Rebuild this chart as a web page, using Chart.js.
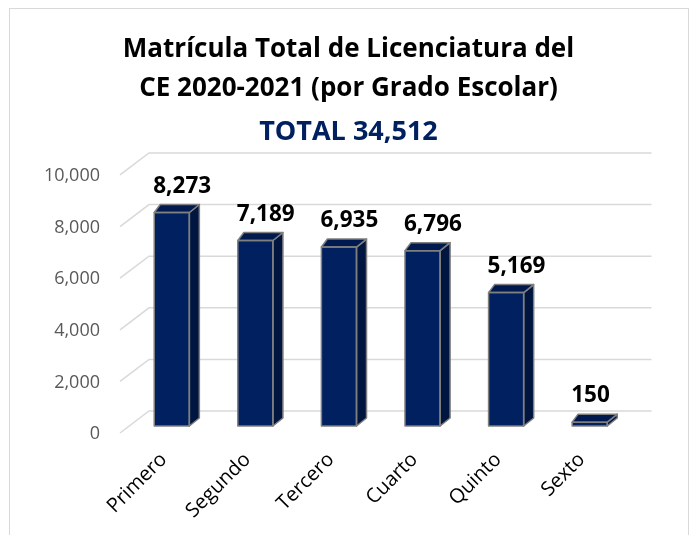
<!DOCTYPE html>
<html>
<head>
<meta charset="utf-8">
<script src="https://cdn.jsdelivr.net/npm/chart.js@4.4.1/dist/chart.umd.min.js"></script>
<style>
  html, body { margin: 0; padding: 0; background: #ffffff; }
  #wrap { position: relative; width: 691px; height: 535px; }
</style>
</head>
<body>
<div id="wrap"><canvas id="c" width="691" height="535"></canvas></div>
<script>
// ---- data ----
const categories = ['Primero', 'Segundo', 'Tercero', 'Cuarto', 'Quinto', 'Sexto'];
const enrollment = [8273, 7189, 6935, 6796, 5169, 150];
const yTickValues = [0, 2000, 4000, 6000, 8000, 10000];
const titleLines = ['Matrícula Total de Licenciatura del', 'CE 2020-2021 (por Grado Escolar)'];
const subtitleText = 'TOTAL 34,512';

// ---- styles ----
const FONT = '"Open Sans"';
const fmt = v => v.toLocaleString('en-US');
const DEPTH_DX = 10, DEPTH_DX_LEFT = 6, DEPTH_DY = 8;

const borderPlugin = {
  id: 'frame',
  beforeDraw(chart) {
    const ctx = chart.ctx;
    ctx.save();
    ctx.fillStyle = '#ffffff';
    ctx.fillRect(0, 0, chart.width, chart.height);
    ctx.strokeStyle = '#d9d9d9';
    ctx.lineWidth = 1;
    ctx.strokeRect(9.5, 8.5, 679, 560);
    ctx.restore();
  }
};

const wallGrid = {
  id: 'wallGrid',
  beforeDatasetsDraw(chart) {
    const ctx = chart.ctx;
    const ys = chart.scales.y;
    const area = chart.chartArea;
    ctx.save();
    ctx.strokeStyle = '#d9d9d9';
    ctx.lineWidth = 1.5;
    yTickValues.forEach(v => {
      const yf = ys.getPixelForValue(v);
      ctx.beginPath();
      ctx.moveTo(area.left - 10, yf + 7);
      ctx.lineTo(area.left + 19, yf - 15);
      ctx.lineTo(area.right + 20, yf - 15);
      ctx.stroke();
    });
    ctx.restore();
  }
};

const bars3d = {
  id: 'bars3d',
  afterDatasetsDraw(chart) {
    const ctx = chart.ctx;
    const meta = chart.getDatasetMeta(0);
    ctx.save();
    ctx.lineJoin = 'round';
    ctx.strokeStyle = '#7f7f7f';
    ctx.lineWidth = 1.5;
    meta.data.forEach((bar, i) => {
      const p = bar.getProps(['x', 'y', 'base', 'width'], true);
      const left = p.x - p.width / 2, right = p.x + p.width / 2;
      const top = p.y, base = p.base;
      // side face
      ctx.beginPath();
      ctx.moveTo(right, top);
      ctx.lineTo(right + DEPTH_DX, top - DEPTH_DY);
      ctx.lineTo(right + DEPTH_DX, base - DEPTH_DY);
      ctx.lineTo(right, base);
      ctx.closePath();
      ctx.fillStyle = '#00153f';
      ctx.fill();
      ctx.stroke();
      // top face
      ctx.beginPath();
      ctx.moveTo(left, top);
      ctx.lineTo(left + DEPTH_DX_LEFT, top - DEPTH_DY);
      ctx.lineTo(right + DEPTH_DX, top - DEPTH_DY);
      ctx.lineTo(right, top);
      ctx.closePath();
      ctx.fillStyle = '#001a4f';
      ctx.fill();
      ctx.stroke();
      // front outline
      ctx.strokeRect(left, top, p.width, base - top);
      // value label
      ctx.fillStyle = '#000000';
      ctx.font = 'bold 22.5px ' + FONT;
      ctx.textAlign = 'left';
      ctx.textBaseline = 'alphabetic';
      ctx.fillText(fmt(enrollment[i]), left - 1, top - 20);
    });
    ctx.restore();
  }
};

new Chart(document.getElementById('c'), {
  type: 'bar',
  data: {
    labels: categories,
    datasets: [{
      data: enrollment,
      backgroundColor: '#002060',
      borderWidth: 0,
      barPercentage: 0.42,
      categoryPercentage: 1.0
    }]
  },
  options: {
    responsive: false,
    animation: false,
    devicePixelRatio: 1,
    layout: { padding: { left: 12, right: 6, top: 0, bottom: 0 } },
    plugins: {
      legend: { display: false },
      tooltip: { enabled: false },
      title: {
        display: true,
        text: titleLines,
        color: '#000000',
        font: { family: FONT, size: 26, weight: 'bold', lineHeight: 1.5 },
        padding: { top: 30, bottom: 9 }
      },
      subtitle: {
        display: true,
        text: subtitleText,
        color: '#002060',
        font: { family: FONT, size: 27, weight: 'bold', lineHeight: 1.11 },
        padding: { top: 0, bottom: 21 }
      }
    },
    scales: {
      x: {
        grid: { display: false },
        border: { display: false },
        ticks: {
          color: '#000000',
          font: { family: FONT, size: 20 },
          minRotation: 45,
          maxRotation: 45,
          padding: 14,
          labelOffset: -8,
          autoSkip: false
        },
        afterFit(s) { s.height = 109; }
      },
      y: {
        min: 0,
        max: 10000,
        grid: { display: false, drawTicks: false },
        border: { display: false },
        afterBuildTicks(s) { s.ticks = yTickValues.map(v => ({ value: v })); },
        ticks: {
          color: '#595959',
          font: { family: FONT, size: 18 },
          padding: 30,
          labelOffset: 8,
          callback: v => fmt(v)
        },
        afterFit(s) { s.width = 118; }
      },
      y2: {
        position: 'right',
        display: true,
        grid: { display: false, drawTicks: false },
        border: { display: false },
        ticks: { display: false },
        afterFit(s) { s.width = 53.5; }
      }
    }
  },
  plugins: [borderPlugin, wallGrid, bars3d]
});
</script>
</body>
</html>
